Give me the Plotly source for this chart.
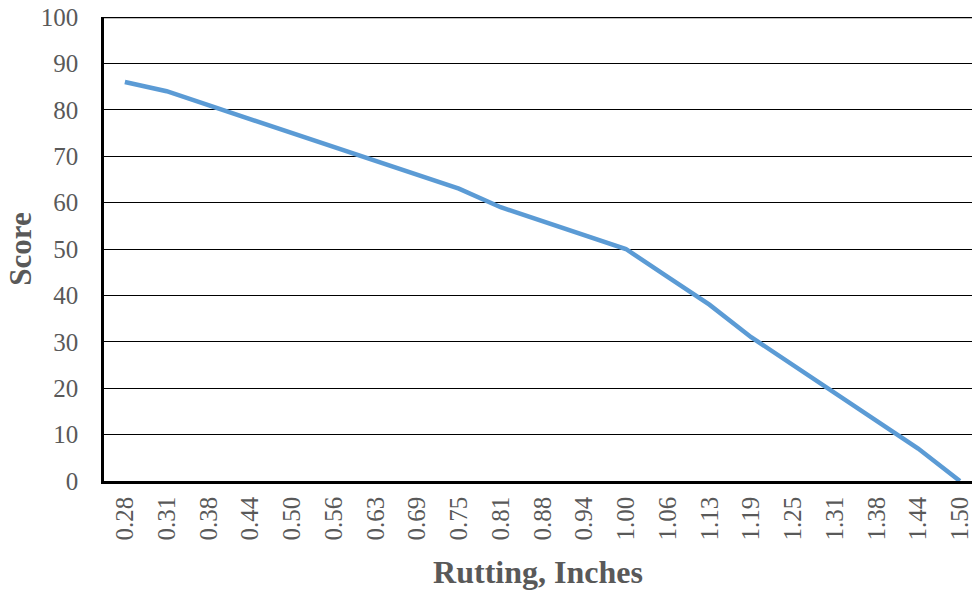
import plotly.graph_objects as go

# Rutting depth categories (inches) and the corresponding condition score
rutting = ["0.28", "0.31", "0.38", "0.44", "0.50", "0.56", "0.63", "0.69", "0.75",
           "0.81", "0.88", "0.94", "1.00", "1.06", "1.13", "1.19", "1.25", "1.31",
           "1.38", "1.44", "1.50"]
score = [86, 84, 81, 78, 75, 72, 69, 66, 63, 59, 56, 53, 50, 44, 38, 31, 25, 19, 13, 7, 0]
y_ticks = [0, 10, 20, 30, 40, 50, 60, 70, 80, 90, 100]

FONT = "Liberation Serif, Times New Roman, serif"
GRAY = "#595959"

fig = go.Figure(
    go.Scatter(
        x=rutting,
        y=score,
        mode="lines",
        line=dict(color="#5B9BD5", width=4.5),
        hoverinfo="x+y",
    )
)

fig.update_layout(
    width=972,
    height=597,
    margin=dict(l=104, r=0, t=17, b=116),
    paper_bgcolor="white",
    plot_bgcolor="white",
    showlegend=False,
    font=dict(family=FONT, color=GRAY, size=25),
    shapes=[
        # top frame line of the plot area
        dict(type="line", xref="paper", yref="y", x0=0, x1=1, y0=100, y1=100,
             line=dict(color="black", width=2.5), layer="above"),
    ],
)

fig.update_xaxes(
    type="category",
    range=[-0.5, 20.29],
    tickangle=-90,
    showgrid=False,
    showline=True,
    linecolor="black",
    linewidth=2.5,
    ticks="",
    ticklabelstandoff=3,
    tickfont=dict(family=FONT, size=25, color=GRAY),
    title=dict(text="<b>Rutting, Inches</b>", standoff=22,
               font=dict(family=FONT, size=32, color=GRAY)),
    zeroline=False,
)

fig.update_yaxes(
    range=[0, 100],
    tickvals=y_ticks,
    showgrid=True,
    gridcolor="black",
    gridwidth=1,
    showline=True,
    linecolor="black",
    linewidth=2.5,
    ticks="",
    ticklabelstandoff=18,
    tickfont=dict(family=FONT, size=25, color=GRAY),
    title=dict(text="<b>Score</b>", standoff=0,
               font=dict(family=FONT, size=31, color=GRAY)),
    zeroline=False,
)

fig.write_html("out.html")
